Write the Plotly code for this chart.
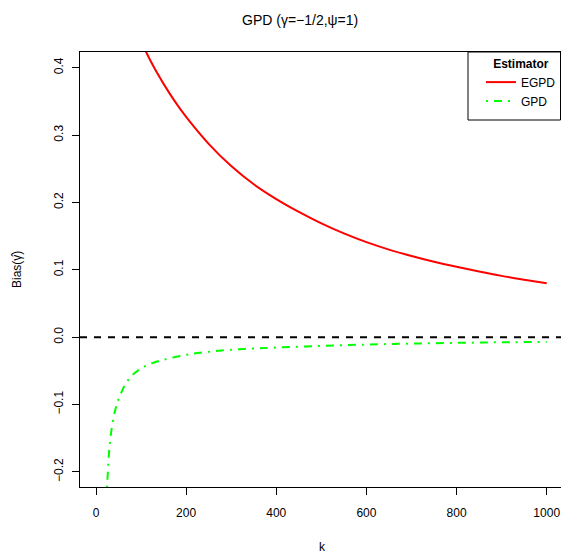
import plotly.graph_objects as go

# ---- data ----
egpd_k = [60, 80, 100, 125, 150, 175, 200, 250, 300, 350, 400, 450, 500, 550, 600, 650, 700, 750, 800,
          850, 900, 950, 1000]
egpd_bias = [0.53, 0.48, 0.440, 0.405, 0.376, 0.350, 0.327, 0.287, 0.254, 0.227, 0.205, 0.186, 0.169,
             0.154, 0.141, 0.130, 0.1205, 0.112, 0.1045, 0.0975, 0.091, 0.0853, 0.080]

gpd_k = [12, 16, 20, 25, 28, 31, 36, 42, 48, 55, 63, 75, 88, 105, 125, 150, 200, 260, 330, 400,
         500, 600, 700, 800, 900, 1000]
gpd_bias = [-0.55, -0.40, -0.30, -0.217, -0.180, -0.156, -0.130, -0.110, -0.096, -0.084, -0.0725,
            -0.0605, -0.052, -0.0445, -0.0385, -0.0335, -0.0262, -0.0210, -0.0174, -0.0154,
            -0.0129, -0.0110, -0.0095, -0.0084, -0.0076, -0.0070]

x_ticks = [0, 200, 400, 600, 800, 1000]
y_ticks = [-0.2, -0.1, 0.0, 0.1, 0.2, 0.3, 0.4]
y_ticktext = ["\u22120.2", "\u22120.1", "0.0", "0.1", "0.2", "0.3", "0.4"]

FONT = "Liberation Sans, Arial, Helvetica, sans-serif"

fig = go.Figure()
fig.add_trace(go.Scatter(x=egpd_k, y=egpd_bias, mode="lines", name="EGPD",
                         line=dict(color="#FF0000", width=2, shape="spline", smoothing=1.0)))
fig.add_trace(go.Scatter(x=gpd_k, y=gpd_bias, mode="lines", name="GPD",
                         line=dict(color="#00FF00", width=2, dash="2px,6px,8px,6px",
                                   shape="spline", smoothing=1.0)))

# horizontal reference line at 0
fig.add_shape(type="line", xref="paper", x0=0, x1=1, yref="y", y0=0, y1=0,
              line=dict(color="black", width=2, dash="7px,7px"))

# legend box (drawn as a shape so its extent matches the reference)
fig.add_shape(type="rect", xref="paper", yref="paper",
              x0=(468 - 80) / 481, x1=(560.5 - 80) / 481, y0=(487 - 120) / 435, y1=1,
              line=dict(color="black", width=1), fillcolor="white", layer="above")

fig.update_layout(
    width=561, height=556,
    margin=dict(l=80, r=0, t=52, b=69),
    paper_bgcolor="white", plot_bgcolor="white",
    font=dict(family=FONT, size=12, color="black"),
    showlegend=True,
    legend=dict(
        title=dict(text="<b>Estimator</b>", side="top center", font=dict(size=12)),
        x=1, xanchor="right", y=1, yanchor="top",
        borderwidth=0, bgcolor="rgba(0,0,0,0)",
        font=dict(size=12), itemwidth=30, tracegroupgap=0,
    ),
    xaxis=dict(range=[-35.5, 1031.7], tickvals=x_ticks, ticks="outside", ticklen=7,
               tickcolor="black", showgrid=False, zeroline=False, showline=True,
               linecolor="black", linewidth=1, mirror=True, ticklabelstandoff=8,
               tickfont=dict(size=12)),
    yaxis=dict(range=[-0.2224, 0.4233], tickvals=y_ticks, ticktext=y_ticktext, tickangle=-90,
               ticks="outside", ticklen=7, tickcolor="black", showgrid=False, zeroline=False,
               showline=True, linecolor="black", linewidth=1, mirror=False,
               ticklabelstandoff=4, tickfont=dict(size=12)),
    annotations=[
        dict(text="GPD (\u03b3=\u22121/2,\u03c8=1)", xref="paper", yref="paper",
             x=(300 - 80) / 481, y=1 + (52 - 20) / 435, xanchor="center", yanchor="middle",
             showarrow=False, font=dict(size=14)),
        dict(text="k", xref="paper", yref="paper", x=(322 - 80) / 481, y=(487 - 547) / 435,
             xanchor="center", yanchor="middle", showarrow=False, font=dict(size=12)),
        dict(text="Bias(\u03b3\u0302)", xref="paper", yref="paper", x=(17 - 80) / 481,
             y=(487 - 270) / 435, xanchor="center", yanchor="middle", textangle=-90,
             showarrow=False, font=dict(size=12)),
    ],
)

fig.write_html("out.html")
